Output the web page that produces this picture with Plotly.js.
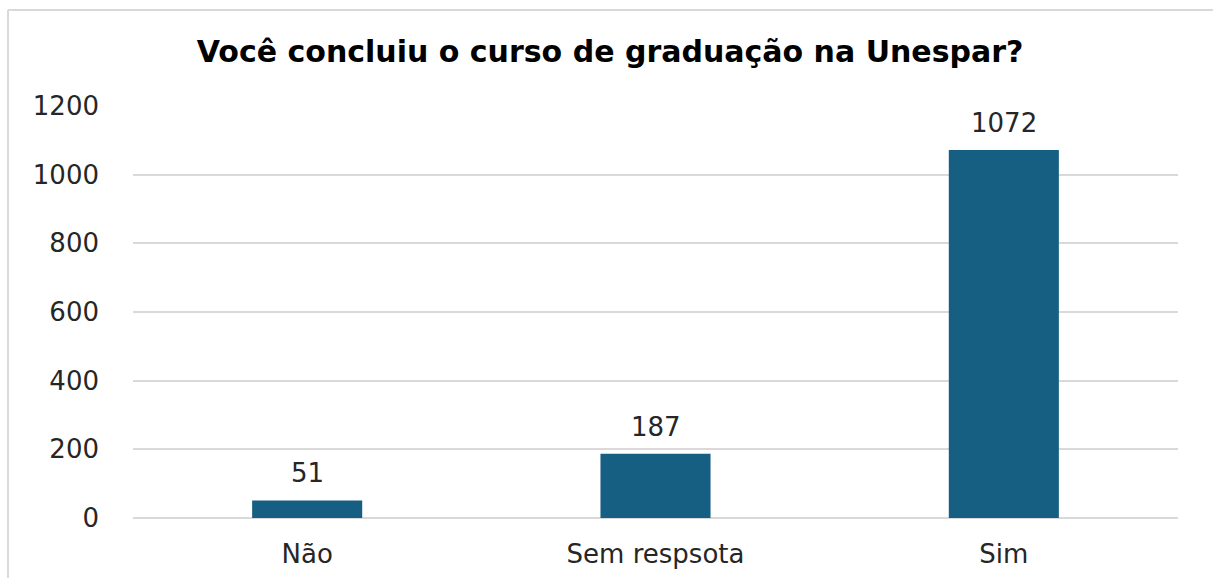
<!DOCTYPE html>
<html>
<head>
<meta charset="utf-8">
<script src="https://cdn.plot.ly/plotly-3.0.1.min.js"></script>
<style>
html,body{margin:0;padding:0;background:#fff;}
#chart{width:1213px;height:578px;}
</style>
</head>
<body>
<div id="chart"></div>
<script>
const categories = ["Não", "Sem respsota", "Sim"];
const values = [51, 187, 1072];
const yTicks = [0, 200, 400, 600, 800, 1000, 1200];
const titleText = "Você concluiu o curso de graduação na Unespar?";

const W = 1213, H = 578;
const L = 133, R = 35, T = 106, B = 60;
const pw = W - L - R, ph = H - T - B;
const px = v => (v - L) / pw;
const py = v => (H - B - v) / ph;

const FONT = "DejaVu Sans, sans-serif";
const TXT = "#262626";

const trace = {
  type: "bar",
  x: categories,
  y: values,
  marker: {color: "#175f82", line: {width: 0}},
  hoverinfo: "x+y"
};

const labels = categories.map((c, i) => ({
  x: c, y: values[i], xref: "x", yref: "y",
  text: String(values[i]),
  showarrow: false,
  yanchor: "bottom",
  yshift: 10,
  font: {family: FONT, size: 26, color: TXT}
}));

const layout = {
  width: W, height: H,
  margin: {l: L, r: R, t: T, b: B, pad: 0},
  paper_bgcolor: "#fff",
  plot_bgcolor: "#fff",
  bargap: 0.684,
  showlegend: false,
  title: {
    text: "<b>" + titleText + "</b>",
    x: 0.503, xanchor: "center",
    y: 1 - 51 / H, yanchor: "middle",
    font: {family: FONT, size: 30, color: "#000"}
  },
  xaxis: {
    type: "category",
    showgrid: false,
    zeroline: false,
    showline: false,
    ticks: "",
    ticklabelstandoff: 18,
    tickfont: {family: FONT, size: 26, color: TXT}
  },
  yaxis: {
    range: [0, 1200],
    tickmode: "array",
    tickvals: yTicks,
    ticktext: yTicks.map(String),
    showgrid: true,
    gridcolor: "#d9d9d9",
    gridwidth: 1.5,
    zeroline: true,
    zerolinecolor: "#d9d9d9",
    zerolinewidth: 1.5,
    showline: false,
    ticks: "",
    ticklabelstandoff: 33,
    tickfont: {family: FONT, size: 26, color: TXT}
  },
  annotations: labels,
  shapes: [
    {type: "line", xref: "paper", yref: "paper", x0: px(8), x1: px(8), y0: py(10), y1: py(600), line: {color: "#d9d9d9", width: 2}},
    {type: "line", xref: "paper", yref: "paper", x0: px(8), x1: px(1220), y0: py(10), y1: py(10), line: {color: "#d9d9d9", width: 2}}
  ]
};

Plotly.newPlot("chart", [trace], layout, {displayModeBar: false, responsive: false});
</script>
</body>
</html>
